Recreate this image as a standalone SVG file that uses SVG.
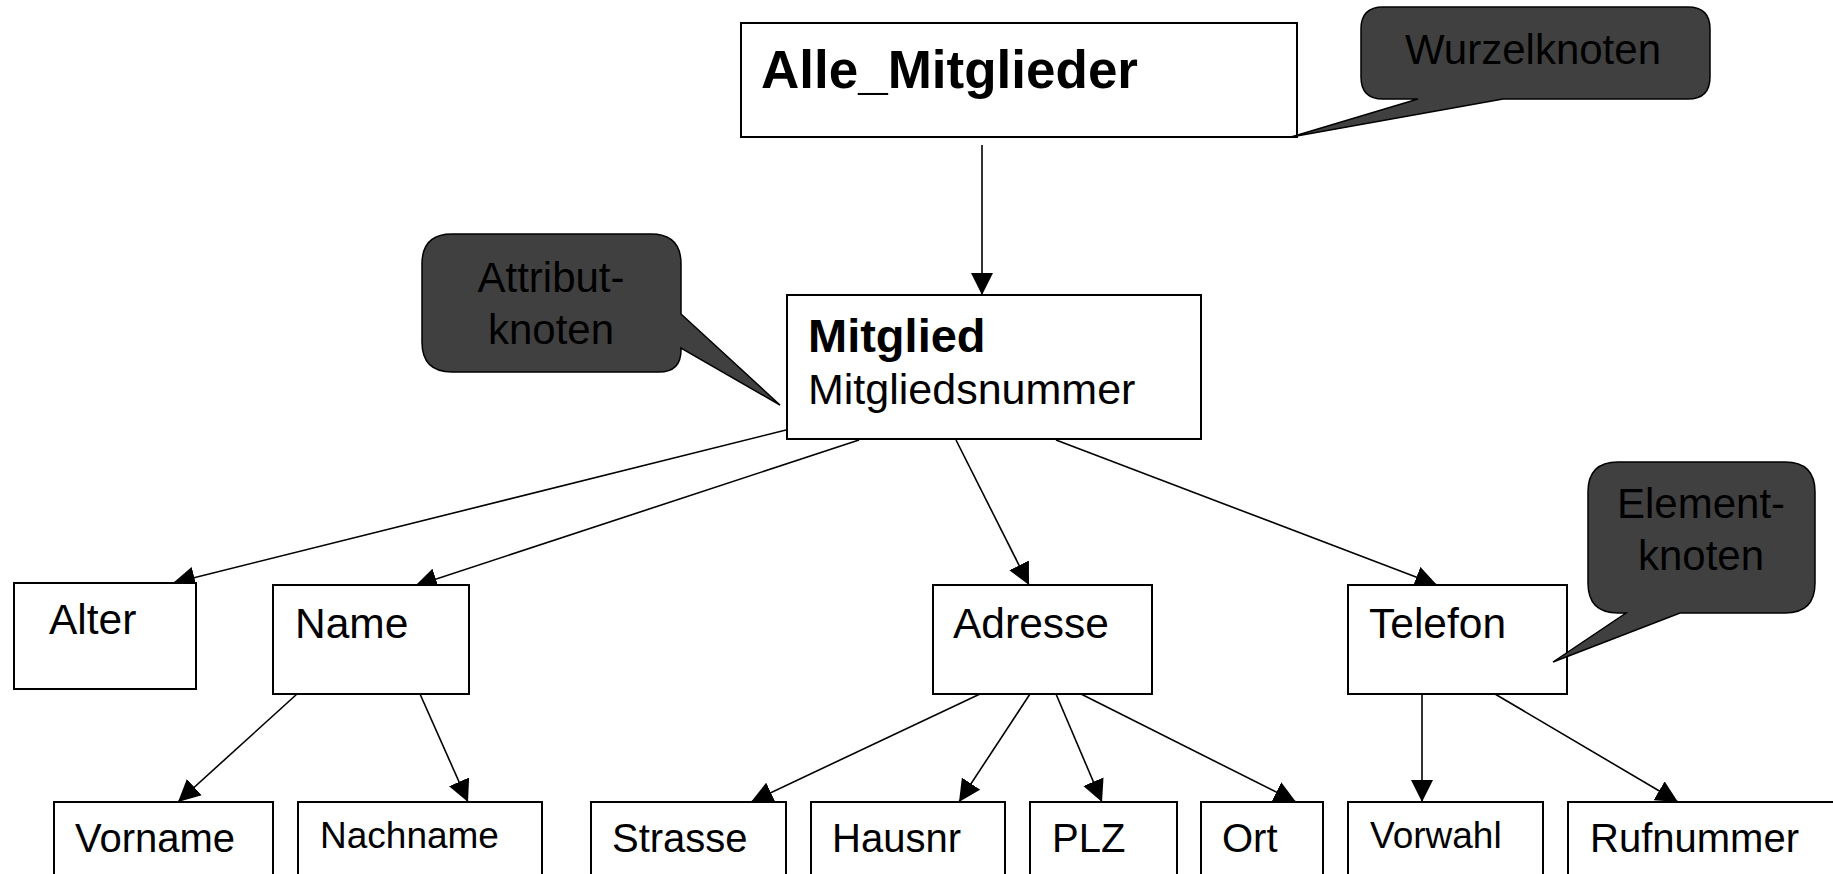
<svg xmlns="http://www.w3.org/2000/svg" width="1833" height="874" viewBox="0 0 1833 874">
<defs>
<marker id="ah" markerUnits="userSpaceOnUse" markerWidth="23" markerHeight="22" refX="22" refY="11" orient="auto">
<path d="M0,0 L22,11 L0,22 z" fill="#000"/>
</marker>
<style>
.box{fill:#fff;stroke:#000;stroke-width:2}
.call{fill:#404040;stroke:#000;stroke-width:1.5}
.t{font-family:"Liberation Sans",Arial,sans-serif;fill:#000}
.m{font-size:42.5px}
.s{font-size:40px}
.xs{font-size:37px}
.ct{font-family:"Liberation Sans",Arial,sans-serif;fill:#000;font-size:42px;text-anchor:middle}
.c{stroke:#000;stroke-width:1.6;fill:none;marker-end:url(#ah)}
</style>
</defs>
<rect width="1833" height="874" fill="#fff"/>
<g id="connectors">
<line class="c" x1="982" y1="145" x2="982" y2="295"/>
<line class="c" x1="786" y1="430" x2="173" y2="583"/>
<line class="c" x1="859" y1="440" x2="415" y2="586"/>
<line class="c" x1="956" y1="440" x2="1029" y2="585"/>
<line class="c" x1="1056" y1="440" x2="1437" y2="585"/>
<line class="c" x1="297" y1="694" x2="178" y2="802"/>
<line class="c" x1="420" y1="694" x2="468" y2="802"/>
<line class="c" x1="980" y1="694" x2="751" y2="802"/>
<line class="c" x1="1030" y1="694" x2="959" y2="802"/>
<line class="c" x1="1056" y1="694" x2="1102" y2="802"/>
<line class="c" x1="1081" y1="694" x2="1296" y2="802"/>
<line class="c" x1="1422" y1="694" x2="1422" y2="802"/>
<line class="c" x1="1495" y1="694" x2="1678" y2="802"/>
</g>
<g id="alle_mitglieder">
<rect class="box" x="741" y="23" width="556" height="114"/>
<text class="t" x="761" y="88" font-size="53" font-weight="bold">Alle_Mitglieder</text>
</g>
<g id="wurzelknoten_callout">
<path class="call" d="M1383,7 H1688 Q1710,7 1710,29 V77 Q1710,99 1688,99 H1503 L1291,137 L1418,99 H1383 Q1361,99 1361,77 V29 Q1361,7 1383,7 Z"/>
<text class="ct" x="1533" y="64">Wurzelknoten</text>
</g>
<g id="mitglied">
<rect class="box" x="787" y="295" width="414" height="144"/>
<text class="t" x="808" y="352" font-size="47" font-weight="bold">Mitglied</text>
<text class="t" x="808" y="404" font-size="43">Mitgliedsnummer</text>
</g>
<g id="attributknoten_callout">
<path class="call" d="M452,234 H651 Q681,234 681,264 V314 L780,405 L681,348 V350 Q681,372 659,372 H452 Q422,372 422,342 V264 Q422,234 452,234 Z"/>
<text class="ct" x="551" y="292">Attribut-</text>
<text class="ct" x="551" y="344">knoten</text>
</g>
<g id="alter">
<rect class="box" x="14" y="583" width="182" height="106"/>
<text class="t m" x="49" y="634">Alter</text>
</g>
<g id="name">
<rect class="box" x="273" y="585" width="196" height="109"/>
<text class="t m" x="295" y="638">Name</text>
</g>
<g id="adresse">
<rect class="box" x="933" y="585" width="219" height="109"/>
<text class="t m" x="953" y="638">Adresse</text>
</g>
<g id="telefon">
<rect class="box" x="1348" y="585" width="219" height="109"/>
<text class="t m" x="1369" y="638">Telefon</text>
</g>
<g id="elementknoten_callout">
<path class="call" d="M1618,462 H1785 Q1815,462 1815,492 V583 Q1815,613 1785,613 H1680 L1553,662 L1626,613 H1618 Q1588,613 1588,583 V492 Q1588,462 1618,462 Z"/>
<text class="ct" x="1701" y="518">Element-</text>
<text class="ct" x="1701" y="570">knoten</text>
</g>
<g id="vorname">
<rect class="box" x="54" y="802" width="219" height="100"/>
<text class="t s" x="75" y="852">Vorname</text>
</g>
<g id="nachname">
<rect class="box" x="298" y="802" width="244" height="100"/>
<text class="t xs" x="320" y="848">Nachname</text>
</g>
<g id="strasse">
<rect class="box" x="591" y="802" width="195" height="100"/>
<text class="t s" x="612" y="852">Strasse</text>
</g>
<g id="hausnr">
<rect class="box" x="811" y="802" width="194" height="100"/>
<text class="t s" x="832" y="852">Hausnr</text>
</g>
<g id="plz">
<rect class="box" x="1030" y="802" width="147" height="100"/>
<text class="t s" x="1052" y="852">PLZ</text>
</g>
<g id="ort">
<rect class="box" x="1201" y="802" width="122" height="100"/>
<text class="t s" x="1222" y="852">Ort</text>
</g>
<g id="vorwahl">
<rect class="box" x="1348" y="802" width="195" height="100"/>
<text class="t xs" x="1370" y="848">Vorwahl</text>
</g>
<g id="rufnummer">
<rect class="box" x="1568" y="802" width="280" height="100"/>
<text class="t s" x="1590" y="852">Rufnummer</text>
</g>
</svg>
